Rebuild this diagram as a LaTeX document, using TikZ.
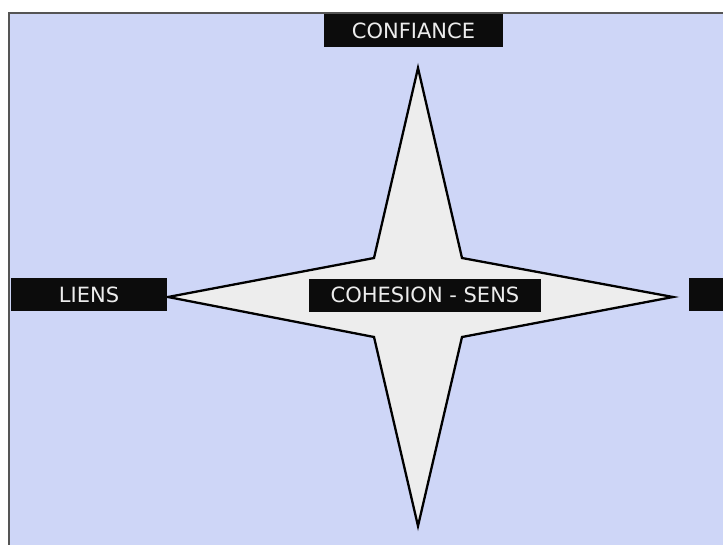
\documentclass[tikz,border=0pt]{standalone}
\usepackage{fontspec}
\setsansfont{DejaVu Sans}
\usetikzlibrary{positioning}
\definecolor{paper}{RGB}{206,214,247}
\definecolor{starfill}{RGB}{237,237,237}
\definecolor{labelbg}{RGB}{12,12,12}
\definecolor{labeltext}{RGB}{236,236,236}
\definecolor{framegray}{RGB}{85,85,85}
\tikzset{
  labelbox/.style={fill=labelbg, text=labeltext, inner sep=0pt, minimum height=33pt,
    font=\sffamily\fontsize{21}{25}\selectfont},
  starline/.style={line width=2.3pt, black, fill=starfill, line join=miter},
  framestyle/.style={line width=1.5pt, framegray},
}

\begin{document}
\begin{tikzpicture}[x=1pt,y=-1pt]
\useasboundingbox (0,0) rectangle (723,544);
\clip (0,0) rectangle (723,544);
% background sheet
\fill[paper] (9,13) rectangle (730,550);
\draw[framestyle] (9,550) -- (9,13) -- (730,13);

% four-pointed star
\coordinate (starN) at (418,68);
\coordinate (starE) at (673,297);
\coordinate (starS) at (418,526);
\coordinate (starW) at (168,297);
\coordinate (starNE) at (462,258);
\coordinate (starSE) at (462,337);
\coordinate (starSW) at (374,337);
\coordinate (starNW) at (374,258);
\draw[starline] (starN) -- (starNE) -- (starE) -- (starSE) -- (starS)
  -- (starSW) -- (starW) -- (starNW) -- cycle;

% labels
\node[labelbox, minimum width=179pt] (confiance) at (413.5,30.5) {CONFIANCE};
\node[labelbox, minimum width=156pt] (liens) at (89,294.5) {LIENS};
\node[labelbox, minimum width=232pt] (cohesion) at (425,295) {COHESION - SENS};
\node[labelbox, minimum width=156pt] (droite) at (767,294.5) {};
\end{tikzpicture}
\end{document}
